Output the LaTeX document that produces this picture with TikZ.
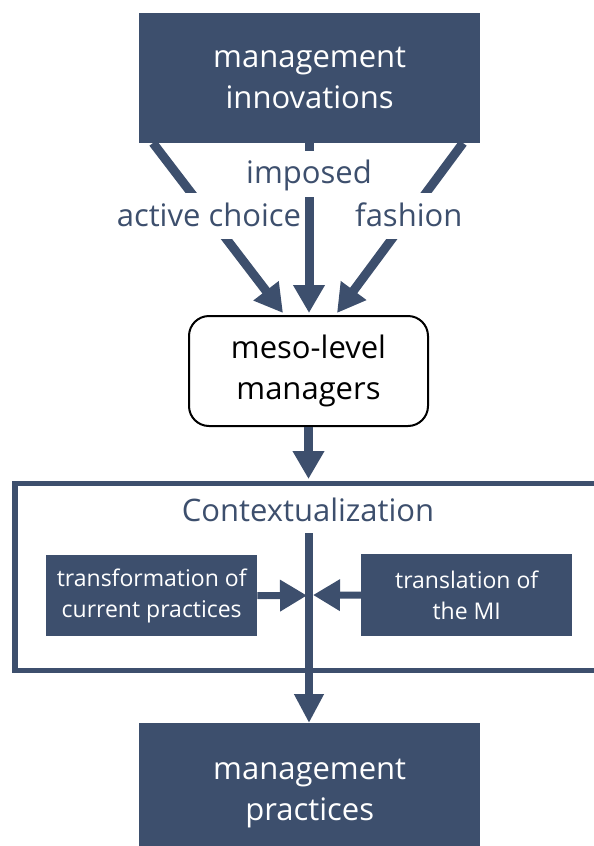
\documentclass[tikz,border=0pt]{standalone}
\usepackage{fontspec}
\setmainfont{Open Sans}
\usetikzlibrary{arrows.meta}
\definecolor{navy}{HTML}{3D4F6D}
\tikzset{
  big/.style={font=\fontsize{31}{41}\selectfont},
  small/.style={font=\fontsize{23}{31}\selectfont},
  darkbox/.style={fill=navy, text=white, align=center, inner sep=0pt, anchor=north west},
  thick arrow/.style={draw=navy, line width=9pt,
    -{Triangle[length=28pt,width=30pt]}},
  thin arrow/.style={draw=navy, line width=7pt,
    -{Triangle[length=27pt,width=30pt]}},
  lbl/.style={big, text=navy, fill=white, inner xsep=4pt, inner ysep=9pt,
    text height=24pt, text depth=4pt},
}
\begin{document}
\begin{tikzpicture}[x=1pt, y=-1pt]
\useasboundingbox (0,0) rectangle (594,846);
\clip (0,0) rectangle (594,846);

% boxes
\node[darkbox, big, minimum width=341pt, minimum height=130pt] (mi) at (139,13)
  {management\\innovations};
\node[draw=black, line width=2pt, rounded corners=20pt, big, align=center,
  minimum width=239pt, minimum height=110pt, inner sep=0pt] (meso) at (308.5,371)
  {meso-level\\managers};
\node[darkbox, big, minimum width=341pt, minimum height=140pt] (mp) at (139,723)
  {management\\practices};

% contextualization frame (open to the right)
\draw[navy, line width=5.5pt] (620,483.5) -- (15,483.5) -- (15,670.5) -- (620,670.5);
\node[big, text=navy] (ctx) at (308,510) {Contextualization};
\node[darkbox, small, minimum width=211pt, minimum height=81pt] (tcp) at (46,555)
  {transformation of\\current practices};
\node[darkbox, small, minimum width=211pt, minimum height=82pt] (tmi) at (361,554)
  {translation of\\the MI};

% adoption routes
\coordinate (la) at (153,143);
\coordinate (lb) at (283,313);
\coordinate (ma) at (309,143);
\coordinate (mb) at (309,313);
\coordinate (ra) at (463,143);
\coordinate (rb) at (337,313);
\draw[thick arrow] (la) -- (lb) node[lbl, pos=0.43] (ac) {active choice};
\draw[thick arrow] (ma) -- (mb) node[lbl, pos=0.18] (im) {imposed};
\draw[thick arrow] (ra) -- (rb) node[lbl, pos=0.43] (fa) {fashion};

% into the contextualization
\draw[thick arrow] (meso.south) -- ++(0,52);

% central flow and side inputs
\coordinate (cs) at (309,533);
\draw[navy, line width=8pt, -{Triangle[length=29pt,width=28pt]}] (cs) -- (mp.north -| cs);
\draw[thin arrow] (tcp.east) -- (307,595.5);
\draw[thin arrow] (tmi.west) -- (313,595);
\end{tikzpicture}
\end{document}
